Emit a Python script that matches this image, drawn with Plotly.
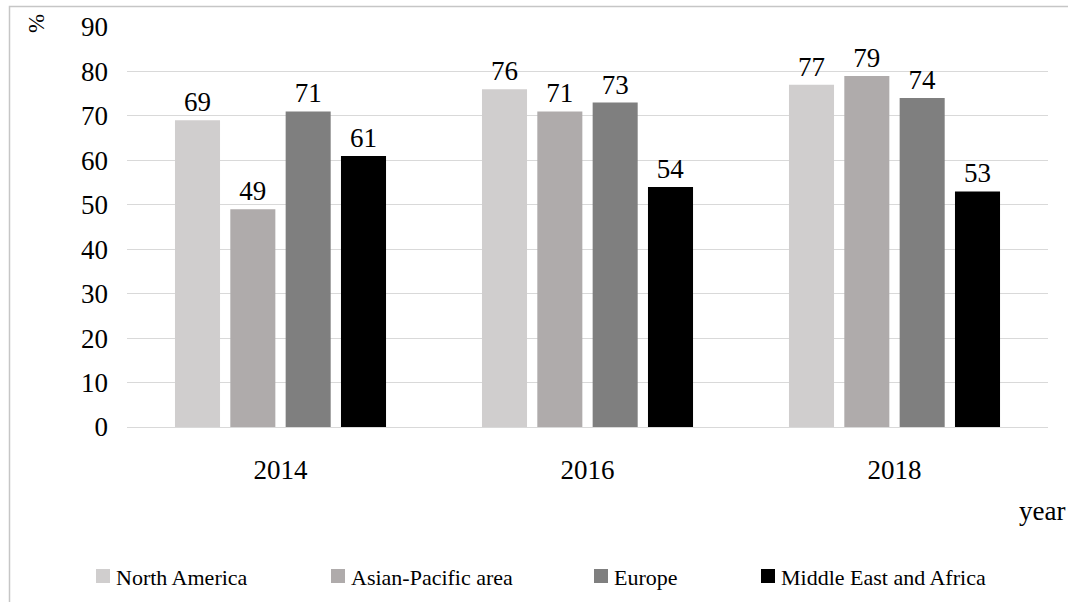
import plotly.graph_objects as go

years = ["2014", "2016", "2018"]
regions = ["North America", "Asian-Pacific area", "Europe", "Middle East and Africa"]
north_america = [69, 76, 77]
asian_pacific = [49, 71, 79]
europe = [71, 73, 74]
middle_east_africa = [61, 54, 53]
y_ticks = [0, 10, 20, 30, 40, 50, 60, 70, 80, 90]

series = [north_america, asian_pacific, europe, middle_east_africa]
colors = ["#d0cece", "#afabab", "#7f7f7f", "#000000"]

W, H = 1068, 602
L, R, T, B = 127, 20, 27, 175
PW, PH = W - L - R, H - T - B
FONT = "Liberation Serif"


def px(x):
    return (x - L) / PW


def py(y):
    return (H - B - y) / PH


fig = go.Figure()
for name, vals, col in zip(regions, series, colors):
    fig.add_trace(go.Bar(
        x=years, y=vals, name=name, marker_color=col, marker_line_width=0,
        text=vals, textposition="outside", cliponaxis=False,
        textfont=dict(family=FONT, size=27, color="black"),
        showlegend=False,
    ))

shapes = []
annotations = []
# outer frame
shapes.append(dict(type="rect", xref="paper", yref="paper",
                   x0=px(9.5), x1=px(1100), y0=py(650), y1=py(6.5),
                   line=dict(color="#c6c6c6", width=1.5), fillcolor="rgba(0,0,0,0)",
                   layer="below"))

# legend drawn as swatches + labels
leg_x = [96, 331, 594, 761]
for name, col, lx in zip(regions, colors, leg_x):
    shapes.append(dict(type="rect", xref="paper", yref="paper",
                       x0=px(lx), x1=px(lx + 14), y0=py(583), y1=py(569),
                       fillcolor=col, line=dict(width=0)))
    annotations.append(dict(text=name, xref="paper", yref="paper",
                            x=px(lx + 18), y=py(577), xanchor="left", yanchor="middle",
                            showarrow=False, font=dict(family=FONT, size=22, color="black")))

annotations.append(dict(text="%", xref="paper", yref="paper", x=px(37), y=py(24),
                        xanchor="center", yanchor="middle", textangle=-90, showarrow=False,
                        font=dict(family=FONT, size=23, color="black")))
annotations.append(dict(text="year", xref="paper", yref="paper", x=px(1067), y=py(511),
                        xanchor="right", yanchor="middle", showarrow=False,
                        font=dict(family=FONT, size=27, color="black")))

fig.update_layout(
    width=W, height=H,
    margin=dict(l=L, r=R, t=T, b=B),
    paper_bgcolor="white", plot_bgcolor="white",
    barmode="group", bargap=0.279, bargroupgap=0.186,
    font=dict(family=FONT, size=27, color="black"),
    shapes=shapes, annotations=annotations,
    showlegend=False,
)
fig.update_xaxes(type="category", showgrid=False, showline=True, linecolor="#d9d9d9",
                 linewidth=1, ticks="", ticklabelstandoff=19,
                 tickfont=dict(family=FONT, size=27, color="black"))
fig.update_yaxes(range=[0, 90], tickvals=y_ticks, showgrid=True, gridcolor="#d9d9d9",
                 gridwidth=1, zeroline=False, showline=False, ticks="",
                 ticklabelstandoff=18, tickfont=dict(family=FONT, size=27, color="black"))

fig.write_html("out.html")
